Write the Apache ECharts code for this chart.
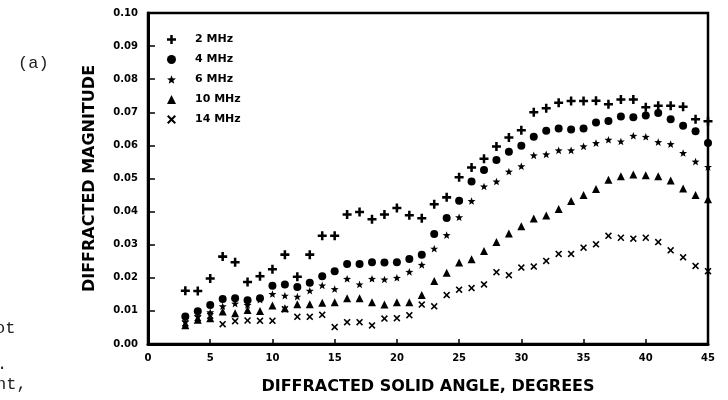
<!DOCTYPE html>
<html>
<head>
<meta charset="utf-8">
<title>Diffracted magnitude vs solid angle</title>
<script src="https://cdn.jsdelivr.net/npm/echarts@6/dist/echarts.min.js"></script>
<style>
  html, body { margin: 0; padding: 0; background: #fff; }
  #chart { width: 728px; height: 400px; }
</style>
</head>
<body>
<div id="chart"></div>
<script>
// angles in degrees, one reading per integer step
const angles = [3, 4, 5, 6, 7, 8, 9, 10, 11, 12, 13, 14, 15, 16, 17, 18, 19, 20, 21, 22, 23, 24,
  25, 26, 27, 28, 29, 30, 31, 32, 33, 34, 35, 36, 37, 38, 39, 40, 41, 42, 43, 44, 45]

const mhz2 = [0.0161, 0.0160, 0.0198, 0.0264, 0.0247, 0.0187, 0.0205, 0.0226, 0.0270, 0.0203, 0.0270,
  0.0327, 0.0327, 0.0391, 0.0399, 0.0377, 0.0391, 0.0411, 0.0389, 0.0380, 0.0422, 0.0443, 0.0504,
  0.0533, 0.0560, 0.0597, 0.0624, 0.0646, 0.0700, 0.0712, 0.0729, 0.0734, 0.0734, 0.0735, 0.0724,
  0.0739, 0.0739, 0.0715, 0.0720, 0.0720, 0.0717, 0.0679, 0.0673]

const mhz4 = [0.0083, 0.0099, 0.0118, 0.0136, 0.0138, 0.0132, 0.0138, 0.0176, 0.0180, 0.0172, 0.0185,
  0.0205, 0.0220, 0.0242, 0.0242, 0.0247, 0.0246, 0.0247, 0.0257, 0.0270, 0.0332, 0.0381, 0.0433,
  0.0491, 0.0526, 0.0556, 0.0581, 0.0599, 0.0626, 0.0644, 0.0651, 0.0648, 0.0651, 0.0669, 0.0674,
  0.0687, 0.0685, 0.0690, 0.0698, 0.0679, 0.0659, 0.0643, 0.0607]

const mhz6 = [0.0068, 0.0084, 0.0096, 0.0114, 0.0122, 0.0118, 0.0134, 0.0151, 0.0146, 0.0143, 0.0161,
  0.0177, 0.0166, 0.0197, 0.0180, 0.0197, 0.0195, 0.0200, 0.0218, 0.0239, 0.0288, 0.0329, 0.0383,
  0.0432, 0.0476, 0.0491, 0.0521, 0.0537, 0.0570, 0.0573, 0.0585, 0.0585, 0.0597, 0.0607, 0.0617,
  0.0612, 0.0629, 0.0626, 0.0610, 0.0604, 0.0577, 0.0551, 0.0535]

const mhz10 = [0.0057, 0.0073, 0.0078, 0.0098, 0.0093, 0.0103, 0.0100, 0.0116, 0.0108, 0.0120, 0.0120,
  0.0125, 0.0126, 0.0138, 0.0138, 0.0126, 0.0119, 0.0126, 0.0126, 0.0148, 0.0190, 0.0215, 0.0246,
  0.0256, 0.0281, 0.0308, 0.0334, 0.0356, 0.0379, 0.0388, 0.0408, 0.0432, 0.0450, 0.0468, 0.0496,
  0.0507, 0.0512, 0.0510, 0.0507, 0.0494, 0.0470, 0.0450, 0.0437]

const mhz14 = [0.0062, 0.0078, 0.0085, 0.0060, 0.0069, 0.0071, 0.0070, 0.0070, 0.0105, 0.0082, 0.0082,
  0.0088, 0.0051, 0.0066, 0.0066, 0.0056, 0.0077, 0.0078, 0.0087, 0.0119, 0.0114, 0.0148, 0.0164,
  0.0169, 0.0180, 0.0217, 0.0208, 0.0231, 0.0234, 0.0251, 0.0272, 0.0272, 0.0291, 0.0301, 0.0327,
  0.0321, 0.0318, 0.0321, 0.0308, 0.0283, 0.0262, 0.0236, 0.0220]

const seriesNames = ['2 MHz', '4 MHz', '6 MHz', '10 MHz', '14 MHz']

// marker shapes as in the printed figure
const PLUS = 'path://M3.6,0H6.4V3.6H10V6.4H6.4V10H3.6V6.4H0V3.6H3.6Z'
const CROSS = 'path://M0,1.6L1.6,0L5,3.4L8.4,0L10,1.6L6.6,5L10,8.4L8.4,10L5,6.6L1.6,10L0,8.4L3.4,5Z'
const STAR = 'path://M5,0L6.2,3.3L9.76,3.45L7,5.65L7.94,9.05L5,7.1L2.06,9.05L3,5.65L0.24,3.45L3.8,3.3Z'

const FONT = 'DejaVu Sans'
const MONO = 'Liberation Mono'

const pairs = (ys) => angles.map((a, i) => [a, ys[i]])

const makeSeries = (name, ys, symbol, size) => ({
  name,
  type: 'scatter',
  data: pairs(ys),
  symbol,
  symbolSize: size,
  symbolKeepAspect: true,
  itemStyle: { color: '#000', opacity: 1 },
  emphasis: { disabled: true },
})

const chart = echarts.init(document.getElementById('chart'))

const option = {
  backgroundColor: '#fff',
  animation: false,
  grid: {
    left: 148,
    right: 20,
    top: 13,
    bottom: 47,
    show: true,
    borderColor: '#000',
    borderWidth: 2.5,
  },
  legend: {
    orient: 'vertical',
    left: 162,
    top: 29,
    itemWidth: 9,
    itemHeight: 9,
    itemGap: 9,
    data: seriesNames,
    textStyle: {
      fontFamily: FONT,
      fontWeight: 'bold',
      fontSize: 11,
      color: '#000',
      lineHeight: 10,
      padding: [0, 0, 0, 14],
    },
    selectedMode: false,
  },
  xAxis: {
    type: 'value',
    min: 0,
    max: 45,
    interval: 5,
    name: 'DIFFRACTED SOLID ANGLE, DEGREES',
    nameLocation: 'middle',
    nameGap: 35,
    nameTextStyle: { fontFamily: FONT, fontWeight: 'bold', fontSize: 16, color: '#000' },
    axisLine: { lineStyle: { color: '#000', width: 3 } },
    axisTick: { inside: true, length: 5, lineStyle: { color: '#000', width: 1.5 } },
    axisLabel: { fontFamily: FONT, fontWeight: 'bold', fontSize: 10, color: '#000', margin: 9 },
    splitLine: { show: false },
  },
  yAxis: {
    type: 'value',
    min: 0,
    max: 0.1,
    interval: 0.01,
    name: 'DIFFRACTED MAGNITUDE',
    nameLocation: 'middle',
    nameGap: 50,
    nameTextStyle: { fontFamily: FONT, fontWeight: 'bold', fontSize: 16, color: '#000' },
    axisLine: { lineStyle: { color: '#000', width: 3 } },
    axisTick: { inside: true, length: 7, lineStyle: { color: '#000', width: 1.5 } },
    axisLabel: {
      fontFamily: FONT,
      fontWeight: 'bold',
      fontSize: 10,
      color: '#000',
      margin: 10,
      formatter: (v) => v.toFixed(2),
    },
    splitLine: { show: false },
  },
  series: [
    makeSeries('2 MHz', mhz2, PLUS, 9),
    makeSeries('4 MHz', mhz4, 'circle', 8),
    makeSeries('6 MHz', mhz6, STAR, 8),
    makeSeries('10 MHz', mhz10, 'triangle', 8),
    makeSeries('14 MHz', mhz14, CROSS, 7),
  ],
  // panel letter and the cut-off words of the neighbouring page text
  graphic: [
    { type: 'text', left: 18, top: 55, style: { text: '(a)', font: '17px ' + MONO, fill: '#222' } },
    { type: 'text', left: -5, top: 320, style: { text: 'ot', font: '17px ' + MONO, fill: '#222' } },
    { type: 'text', left: -3, top: 356, style: { text: '.', font: '17px ' + MONO, fill: '#222' } },
    { type: 'text', left: -4, top: 376, style: { text: 'nt,', font: '17px ' + MONO, fill: '#222' } },
  ],
}

chart.setOption(option)
</script>
</body>
</html>
